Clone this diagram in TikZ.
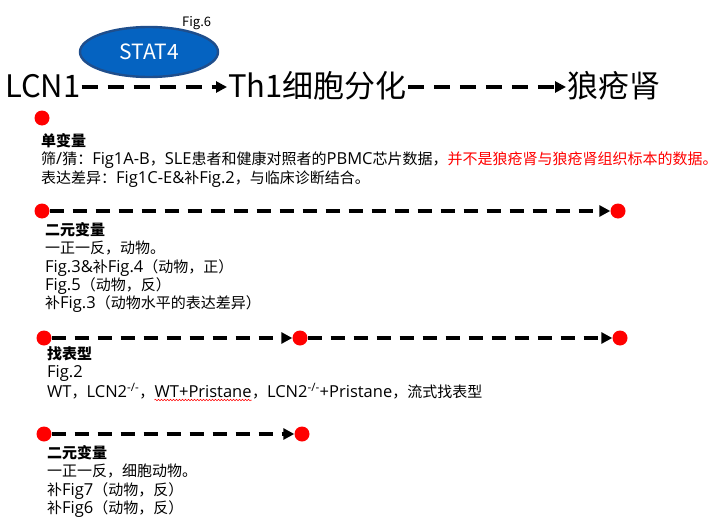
\documentclass[tikz,border=0pt]{standalone}
\usepackage{fontspec}
\setmainfont{Noto Sans CJK SC}
\newfontfamily\latfont{Open Sans}[Scale=1.1]
\newcommand\lt[1]{{\latfont #1}}
\usetikzlibrary{arrows.meta,shapes.geometric,decorations.pathmorphing}
\definecolor{statfill}{HTML}{0563C1}
\definecolor{statedge}{HTML}{1F4E8C}
\begin{document}
\begin{tikzpicture}[x=1pt,y=-1pt,
  dot/.style={circle,fill=red,inner sep=0pt,minimum size=15pt},
  darrow/.style={line width=4pt,dash pattern=on 14pt off 9pt,-{Triangle[length=11pt,width=11pt]}},
  bigarrow/.style={line width=4pt,dash pattern=on 16pt off 10pt,-{Triangle[length=11pt,width=11pt]}},
  big/.style={font=\fontsize{31}{31}\selectfont,inner sep=0pt,anchor=base west},
  body/.style={font=\fontsize{15}{18.4}\selectfont,align=left,anchor=north west,inner sep=0pt},
  bline/.style={font=\fontsize{15}{18.4}\selectfont,inner sep=0pt,anchor=base west},
]
\useasboundingbox[fill=white] (0,0) rectangle (726,522);

% top row
\node[ellipse,fill=statfill,draw=statedge,line width=2.4pt,minimum width=138pt,minimum height=50pt,
      text=white,font=\fontsize{21}{21}\selectfont] (stat4) at (149,52) {STAT4};
\node[font=\fontsize{13}{13}\selectfont,inner sep=0pt,anchor=base west] (fig6) at (182,27) {Fig.6};
\node[big] (lcn1) at (5,97) {LCN1};
\node[big] (th1) at (228,97) {Th1细胞分化};
\node[big] (lupus) at (567,97) {狼疮肾};
\draw[bigarrow] ([xshift=1pt,yshift=10pt]lcn1.base east) -- ([xshift=-1pt,yshift=10pt]th1.base west);
\draw[bigarrow] ([xshift=1pt,yshift=10pt]th1.base east) -- ([xshift=-1pt,yshift=10pt]lupus.base west);

% block 1
\node[dot] (d1) at (42,118) {};
\node[body] (t1) at (41,133) {\textbf{单变量}\\
筛\lt{/}猜：\lt{Fig1A-B}，\lt{SLE}患者和健康对照者的\lt{PBMC}芯片数据，{\color{red}并不是狼疮肾与狼疮肾组织标本的数据。}\\
表达差异：\lt{Fig1C-E\&}补\lt{Fig.2}，与临床诊断结合。};

% block 2
\node[dot] (d2a) at (42,211) {};
\node[dot] (d2b) at (618,211) {};
\draw[darrow] (d2a.east) -- (d2b.west);
\node[body] (t2) at (45,222) {\textbf{二元变量}\\
一正一反，动物。\\
\lt{Fig.3\&}补\lt{Fig.4}（动物，正）\\
\lt{Fig.5}（动物，反）\\
补\lt{Fig.3}（动物水平的表达差异）};

% block 3
\node[dot] (d3a) at (44,338) {};
\node[dot] (d3b) at (300,338) {};
\node[dot] (d3c) at (620,338) {};
\draw[darrow] (d3a.east) -- (d3b.west);
\draw[darrow] (d3b.east) -- (d3c.west);
\node[body] (t3) at (47,346) {\textbf{找表型}\\
\lt{Fig.2}};
\node[bline] (t3a) at (47,397) {\lt{WT}，\lt{LCN2\textsuperscript{-/-}}，};
\node[bline] (t3b) at (t3a.base east) {\lt{WT+Pristane}};
\node[bline] (t3c) at (t3b.base east) {，\lt{LCN2\textsuperscript{-/-}+Pristane}，流式找表型};
\draw[red,line width=0.5pt,decorate,decoration={snake,amplitude=0.8pt,segment length=3pt}]
  ([yshift=-3pt]t3b.base west) -- ([yshift=-3pt]t3b.base east);

% block 4
\node[dot] (d4a) at (44,434) {};
\node[dot] (d4b) at (302,434) {};
\draw[darrow] (d4a.east) -- (d4b.west);
\node[body] (t4) at (47,445) {\textbf{二元变量}\\
一正一反，细胞动物。\\
补\lt{Fig7}（动物，反）\\
补\lt{Fig6}（动物，反）};
\end{tikzpicture}
\end{document}
